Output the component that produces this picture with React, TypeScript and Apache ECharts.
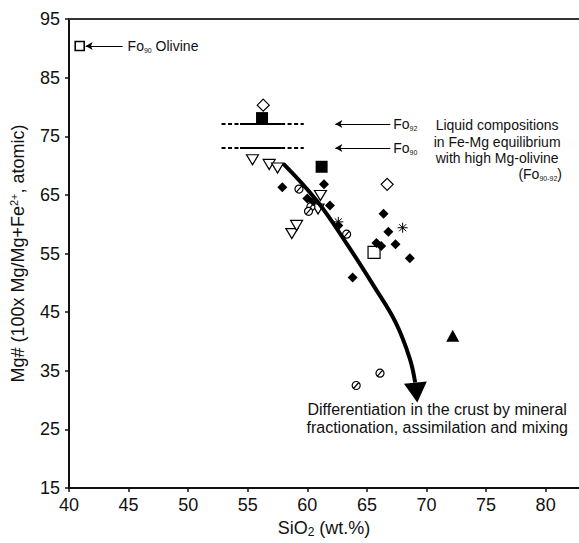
import React, { useEffect, useRef } from 'react';
import * as echarts from 'echarts';

// ---- axes ----
const X_TICKS = [40, 45, 50, 55, 60, 65, 70, 75, 80];
const Y_TICKS = [15, 25, 35, 45, 55, 65, 75, 85, 95];
const X_MIN = 40;
const X_MAX = 82.8;
const Y_MIN = 15;
const Y_MAX = 95;

// ---- data (SiO2 wt.%, Mg#) ----
const FILLED_DIAMONDS = [
  [57.9, 66.3], [61.4, 66.8], [60.0, 64.4], [60.5, 63.9], [61.9, 63.2],
  [62.6, 59.8], [66.4, 61.8], [66.8, 58.7], [65.8, 56.8], [66.2, 56.3],
  [67.4, 56.6], [68.6, 54.2], [63.8, 50.9],
];
const OPEN_DIAMONDS = [[56.3, 80.3], [66.7, 66.8]];
const FILLED_SQUARES = [[56.2, 78.1], [61.2, 69.8]];
const OPEN_SQUARES = [[65.6, 55.2]];
const OPEN_TRIANGLES = [
  [55.4, 71.0], [56.8, 70.2], [57.5, 69.6], [61.1, 64.9], [60.9, 62.6],
  [58.7, 58.4], [59.1, 59.8],
];
const SLASHED_CIRCLES = [
  [59.3, 66.0], [60.3, 63.0], [60.1, 62.2], [63.3, 58.3], [66.1, 34.6], [64.1, 32.5],
];
const ASTERISKS = [[68.0, 59.4], [62.6, 60.4]];
const FILLED_TRIANGLES = [[72.2, 41.0]];
const OLIVINE = [[40.9, 90.4]];

// Liquid Mg# in equilibrium with Fo92 / Fo90 olivine
const FO_LEVELS = [77.1, 73.0];
const FO_NAMES = ['92', '90'];
const FO_RANGE_X = [52.8, 54.35, 57.8, 59.7]; // dashed | solid | dashed
const FO_ARROW_X = [66.96, 62.35];
const OLIVINE_ARROW_X = [44.5, 41.4];

// differentiation trend
const TREND_CURVE = [
  [58.0, 70.3], [60.8, 64.0], [63.3, 56.7], [65.6, 49.4], [67.4, 43.3], [68.6, 37.1], [69.05, 33.0],
];
const TREND_HEAD = [[69.15, 31.3]];

// annotation anchors (data coordinates)
const LIQUID_TEXT_AT = [75.93, 74.1];
const LIQUID_FO_AT = [81.37, 68.5];
const DIFF_TEXT_AT = [70.9, 26.8];

const FONT = '"Liberation Sans", Arial, Helvetica, sans-serif';
const INK = '#111111';
const MARK = '#000000';

const CIRCLE_SLASH = 'path://M10,0 A10,10 0 1,1 -10,0 A10,10 0 1,1 10,0 Z M-6.5,7.5 L6.5,-7.5';
const ASTERISK = 'path://M0,-10 L0,10 M-10,0 L10,0 M-7.07,-7.07 L7.07,7.07 M-7.07,7.07 L7.07,-7.07';

const App = () => {
  const ref = useRef<HTMLDivElement>(null);

  useEffect(() => {
    const chart = echarts.init(ref.current!, null, { renderer: 'svg' });

    const openStyle = { color: '#ffffff', borderColor: MARK, borderWidth: 1.2, opacity: 1 };
    const filledStyle = { color: MARK, opacity: 1 };
    const scatter = (name: string, data: number[][], symbol: string, size: any, itemStyle: any, extra: any = {}) => ({
      type: 'scatter', name, data, symbol, symbolSize: size, itemStyle, silent: true, z: 3, ...extra,
    });

    const foSeries: any[] = [];
    FO_LEVELS.forEach((lvl, i) => {
      const seg = (a: number, b: number, dashed: boolean, extra: any = {}) => ({
        type: 'line',
        data: [[FO_RANGE_X[a], lvl], [FO_RANGE_X[b], lvl]],
        symbol: 'none',
        silent: true,
        lineStyle: { color: MARK, width: 2, type: dashed ? [4, 2.5] : 'solid' },
        z: 2,
        ...extra,
      });
      foSeries.push(seg(0, 1, true));
      foSeries.push(
        seg(1, 2, false, {
          markLine: {
            silent: true,
            symbol: ['none', 'arrow'],
            symbolSize: [6, 7],
            lineStyle: { color: MARK, width: 1, type: 'solid' },
            label: {
              show: true,
              position: 'start',
              distance: 3,
              color: INK,
              fontFamily: FONT,
              formatter: `{f|Fo}{s|${FO_NAMES[i]}}`,
              rich: {
                f: { fontSize: 14, lineHeight: 16, fontFamily: FONT, color: INK },
                s: { fontSize: 7, lineHeight: 7, verticalAlign: 'bottom', fontFamily: FONT, color: INK },
              },
            },
            data: [[{ coord: [FO_ARROW_X[0], lvl] }, { coord: [FO_ARROW_X[1], lvl] }]],
          },
        })
      );
      foSeries.push(seg(2, 3, true));
    });

    chart.setOption({
      animation: false,
      backgroundColor: '#ffffff',
      grid: { left: 68, top: 19, right: 0, bottom: 48 },
      xAxis: [
        {
          type: 'value',
          min: X_MIN,
          max: X_MAX,
          name: '{m|SiO}{sub|2}{m| (wt.%)}',
          nameLocation: 'middle',
          nameGap: 28,
          nameTextStyle: {
            rich: {
              m: { fontSize: 18, lineHeight: 20, fontFamily: FONT, color: INK },
              sub: { fontSize: 12, lineHeight: 12, verticalAlign: 'bottom', fontFamily: FONT, color: INK },
            },
          },
          axisLine: { show: true, onZero: false, lineStyle: { color: INK, width: 2 } },
          axisTick: { show: true, inside: false, length: 4, customValues: X_TICKS, lineStyle: { color: INK, width: 1.5 } },
          axisLabel: { customValues: X_TICKS, margin: 8, fontSize: 18, fontFamily: FONT, color: INK },
          splitLine: { show: false },
        },
        {
          type: 'value',
          position: 'top',
          min: X_MIN,
          max: X_MAX,
          axisLine: { show: true, onZero: false, lineStyle: { color: '#333333', width: 2 } },
          axisTick: { show: false },
          axisLabel: { show: false },
          splitLine: { show: false },
        },
      ],
      yAxis: {
        type: 'value',
        min: Y_MIN,
        max: Y_MAX,
        name: '{m|Mg# (100x Mg/Mg+Fe}{sup|2+}{m|, atomic)}',
        nameLocation: 'middle',
        nameGap: 41,
        nameTextStyle: {
          rich: {
            m: { fontSize: 18, lineHeight: 20, fontFamily: FONT, color: INK },
            sup: { fontSize: 11, lineHeight: 11, verticalAlign: 'top', fontFamily: FONT, color: INK },
          },
        },
        axisLine: { show: true, onZero: false, lineStyle: { color: INK, width: 2 } },
        axisTick: { show: true, inside: false, length: 4, customValues: Y_TICKS, lineStyle: { color: INK, width: 1.5 } },
        axisLabel: { customValues: Y_TICKS, margin: 9, fontSize: 18, fontFamily: FONT, color: INK },
        splitLine: { show: false },
      },
      series: [
        ...foSeries,
        {
          type: 'line',
          data: [],
          silent: true,
          markLine: {
            silent: true,
            symbol: ['none', 'arrow'],
            symbolSize: [6, 7],
            lineStyle: { color: MARK, width: 1, type: 'solid' },
            label: {
              show: true,
              position: 'start',
              distance: 5,
              color: INK,
              formatter: '{f|Fo}{s|90}{f| Olivine}',
              rich: {
                f: { fontSize: 14, lineHeight: 16, fontFamily: FONT, color: INK },
                s: { fontSize: 7, lineHeight: 7, verticalAlign: 'bottom', fontFamily: FONT, color: INK },
              },
            },
            data: [[{ coord: [OLIVINE_ARROW_X[0], OLIVINE[0][1]] }, { coord: [OLIVINE_ARROW_X[1], OLIVINE[0][1]] }]],
          },
        },
        scatter('Fo90 olivine', OLIVINE, 'rect', 9, { color: '#ffffff', borderColor: MARK, borderWidth: 1.6, opacity: 1 }),
        scatter('open triangles', OPEN_TRIANGLES, 'triangle', [12, 10], openStyle, { symbolRotate: 180 }),
        scatter('slashed circles', SLASHED_CIRCLES, CIRCLE_SLASH, 8, openStyle),
        scatter('open diamonds', OPEN_DIAMONDS, 'diamond', 12, openStyle),
        scatter('open squares', OPEN_SQUARES, 'rect', 12, openStyle),
        scatter('asterisks', ASTERISKS, ASTERISK, 10, { color: 'none', borderColor: MARK, borderWidth: 1, opacity: 1 }),
        scatter('filled squares', FILLED_SQUARES, 'rect', 12, filledStyle),
        scatter('filled diamonds', FILLED_DIAMONDS, 'diamond', 10, filledStyle),
        scatter('filled triangles', FILLED_TRIANGLES, 'triangle', [13, 12], filledStyle),
        {
          type: 'line',
          name: 'trend',
          data: TREND_CURVE,
          smooth: 0.4,
          symbol: 'none',
          silent: true,
          z: 4,
          lineStyle: { color: MARK, width: 4, cap: 'butt' },
        },
        scatter('trend head', TREND_HEAD, 'triangle', [23, 20], filledStyle, { symbolRotate: 185.6, z: 4 }),
      ],
    });

    const px = (p: number[]) => chart.convertToPixel({ xAxisIndex: 0, yAxisIndex: 0 }, p) as number[];
    const a = px(LIQUID_TEXT_AT);
    const b = px(LIQUID_FO_AT);
    const c = px(DIFF_TEXT_AT);

    chart.setOption({
      graphic: [
        {
          type: 'text',
          x: a[0],
          y: a[1],
          silent: true,
          style: {
            text: 'Liquid compositions\nin Fe-Mg equilibrium\nwith high Mg-olivine',
            fontSize: 14,
            lineHeight: 16.7,
            fontFamily: FONT,
            fill: INK,
            align: 'center',
            verticalAlign: 'middle',
          },
        },
        {
          type: 'text',
          x: b[0],
          y: b[1],
          silent: true,
          style: {
            text: '{f|(Fo}{s|90-92}{f|)}',
            align: 'right',
            verticalAlign: 'middle',
            fill: INK,
            rich: {
              f: { fontSize: 14, lineHeight: 16, fontFamily: FONT, fill: INK },
              s: { fontSize: 7, lineHeight: 7, verticalAlign: 'bottom', fontFamily: FONT, fill: INK },
            },
          },
        },
        {
          type: 'text',
          x: c[0],
          y: c[1],
          silent: true,
          style: {
            text: 'Differentiation in the crust by mineral\nfractionation, assimilation and mixing',
            fontSize: 16,
            lineHeight: 18,
            fontFamily: FONT,
            fill: INK,
            align: 'center',
            verticalAlign: 'middle',
          },
        },
      ],
    });

    return () => chart.dispose();
  }, []);

  return <div ref={ref} style={{ position: 'fixed', left: 0, top: 0, width: 579, height: 543 }} />;
};

export default App;
